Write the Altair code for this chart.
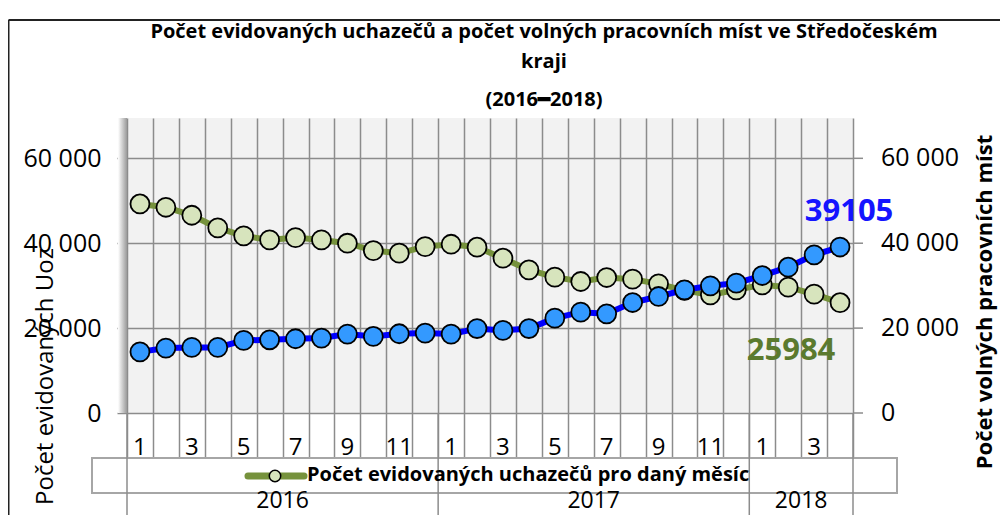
import altair as alt
import pandas as pd

# ---- data ----
months = [1, 2, 3, 4, 5, 6, 7, 8, 9, 10, 11, 12,
          1, 2, 3, 4, 5, 6, 7, 8, 9, 10, 11, 12,
          1, 2, 3, 4]
years = [2016] * 12 + [2017] * 12 + [2018] * 4
uchazeci = [49250, 48470, 46590, 43600, 41720, 40780, 41320, 40780, 40000, 38260,
            37650, 39200, 39760, 39060, 36470, 33720, 32000, 30980, 31920, 31530,
            30430, 28900, 27840, 29020, 30200, 29650, 28000, 25984]
mista = [14400, 15290, 15450, 15450, 17100, 17250, 17490, 17650, 18590, 18040,
         18670, 18820, 18590, 19900, 19450, 19900, 22350, 23760, 23370, 26030,
         27450, 29020, 29960, 30590, 32390, 34350, 37250, 39105]
y_ticks = [0, 20000, 40000, 60000]
title_lines = ["Počet evidovaných uchazečů a počet volných pracovních míst ve Středočeském",
               "kraji", "(2016━2018)"]
left_title = "Počet evidovaných Uoz"
right_title = "Počet volných pracovních míst"
legend_label = "Počet evidovaných uchazečů pro daný měsíc"

FONT = "Open Sans"
GRID = "#8c8c8c"
GREEN_LINE = "#76923c"
GREEN_FILL = "#d7e4bd"
BLUE_LINE = "#0000ff"
BLUE_FILL = "#3399ff"

n = len(months)
df = pd.DataFrame({"i": list(range(n)), "month": months, "year": years,
                   "uchazeci": uchazeci, "mista": mista})
df_lab = df[df["i"] % 2 == 0]
yr = df.groupby("year")["i"].agg(["min", "max"]).reset_index()
yr["c"] = (yr["min"] + yr["max"]) / 2
year_lab = yr[["year", "c"]]
year_div = pd.DataFrame({"b": sorted(set(list(yr["min"] - 0.5) + list(yr["max"] + 0.5)))})
last = df.iloc[[-1]]
ticks_df = pd.DataFrame({"v": y_ticks})
one = df.iloc[[0]]

xscale = alt.Scale(domain=[-0.5, n - 0.5], nice=False, zero=False)
x_axis = alt.Axis(values=[k - 0.5 for k in range(n + 1)], labels=False, title=None,
                  grid=True, gridColor=GRID, gridWidth=1.5, gridOpacity=1,
                  tickSize=55, tickColor=GRID, tickWidth=1.5, domain=False)
yscale = alt.Scale(domain=[0, 69500], nice=False, zero=True)
y_axis = alt.Axis(values=y_ticks, title=left_title, orient="left",
                  labelExpr="replace(format(datum.value, ','), ',', ' ')",
                  labelFontSize=25, labelFont=FONT, labelColor="black",
                  labelPadding=16, tickSize=10, tickColor=GRID, tickWidth=1.5,
                  grid=True, gridColor=GRID, gridWidth=1.5, gridOpacity=1,
                  domain=False, titleFont=FONT, titleFontSize=24,
                  titleFontWeight="normal", titleColor="black",
                  titleAngle=270, titleX=-82, titleY=258,
                  titleAlign="center", titleBaseline="middle")


def X(field):
    return alt.X(field, type="quantitative", scale=xscale, axis=x_axis)


def Y(field):
    return alt.Y(field, type="quantitative", scale=yscale, axis=y_axis)


base = alt.Chart(df)

green_line = base.mark_line(color=GREEN_LINE, strokeWidth=6).encode(x=X("i"), y=Y("uchazeci"))
green_pts = base.mark_point(filled=True, fill=GREEN_FILL, stroke="black", strokeWidth=1.8,
                            size=360, opacity=1, shape="circle").encode(
    x=X("i"), y=Y("uchazeci"))
blue_line = base.mark_line(color=BLUE_LINE, strokeWidth=6).encode(x=X("i"), y=Y("mista"))
blue_pts = base.mark_point(filled=True, fill=BLUE_FILL, stroke="black", strokeWidth=1.8,
                           size=360, opacity=1, shape="circle").encode(
    x=X("i"), y=Y("mista"))
blue_lbl = alt.Chart(last).mark_text(font=FONT, fontSize=31, fontWeight="bold",
                                     color="#1414ff", dx=9, dy=-35).encode(
    x=X("i"), y=Y("mista"), text="mista:Q")
green_lbl = alt.Chart(last).mark_text(font=FONT, fontSize=31, fontWeight="bold",
                                      color="#5b7a2e", dx=-49, dy=48).encode(
    x=X("i"), y=Y("uchazeci"), text="uchazeci:Q")

# right-hand axis (same scale), drawn as ticks + labels
r_ticks = alt.Chart(ticks_df).mark_rule(color=GRID, strokeWidth=1.5).encode(
    x=alt.value(726), x2=alt.value(736), y=Y("v"))
r_labels = alt.Chart(ticks_df).transform_calculate(
    lab="replace(format(datum.v, ','), ',', ' ')").mark_text(
    font=FONT, fontSize=25, align="left", baseline="middle", color="black").encode(
    x=alt.value(754), y=Y("v"), text="lab:N")
r_title = alt.Chart(pd.DataFrame({"t": [right_title]})).mark_text(
    font=FONT, fontSize=22, fontWeight="bold", angle=270, align="center",
    baseline="middle", color="black").encode(
    x=alt.value(858), y=alt.value(184), text="t:N")

# decorations (pixel positions relative to the plot area)
shadow = alt.Chart(one).mark_rect(
    fill=alt.Gradient(gradient="linear", x1=0, x2=1, y1=0, y2=0,
                      stops=[alt.GradientStop(color="#ffffff", offset=0),
                             alt.GradientStop(color="#9a9a9a", offset=1)])).encode(
    x=alt.value(-9), x2=alt.value(0), y=alt.value(0), y2=alt.value(295))

legend_box = alt.Chart(one).mark_rect(
    fill="white", stroke="#a6a6a6", strokeWidth=2).encode(
    x=alt.value(-35), x2=alt.value(770), y=alt.value(340), y2=alt.value(375))
legend_sym_line = alt.Chart(one).mark_rule(
    color=GREEN_LINE, strokeWidth=7, strokeCap="round").encode(
    x=alt.value(121), x2=alt.value(177), y=alt.value(358))
legend_sym_pt = alt.Chart(one).mark_point(
    filled=True, fill=GREEN_FILL, stroke="black", strokeWidth=1.5, size=130,
    shape="circle", opacity=1).encode(x=alt.value(148), y=alt.value(358))
legend_txt = alt.Chart(pd.DataFrame({"t": [legend_label]})).mark_text(
    font=FONT, fontSize=20, fontWeight="bold", align="left", baseline="middle",
    color="black").encode(x=alt.value(180), y=alt.value(357), text="t:N")

month_txt = alt.Chart(df_lab).mark_text(font=FONT, fontSize=24, baseline="middle",
                                        color="black").encode(
    x=X("i"), y=alt.value(330), text="month:Q")
year_txt = alt.Chart(year_lab).mark_text(font=FONT, fontSize=23, baseline="middle",
                                         color="black").encode(
    x=X("c"), y=alt.value(383), text="year:N")
year_rules = alt.Chart(year_div).mark_rule(color=GRID, strokeWidth=1.5).encode(
    x=X("b"), y=alt.value(295), y2=alt.value(410))

frame_v = alt.Chart(one).mark_rule(color="#222222", strokeWidth=2).encode(
    x=alt.value(-118.5), y=alt.value(-98), y2=alt.value(410))
frame_h = alt.Chart(one).mark_rule(color="#222222", strokeWidth=2).encode(
    x=alt.value(-118.5), x2=alt.value(880), y=alt.value(-98))

title_y = [-86, -56, -18]
title_layers = [
    alt.Chart(pd.DataFrame({"t": [t]})).mark_text(
        font=FONT, fontSize=20, fontWeight="bold", baseline="middle",
        color="black").encode(x=alt.value(417), y=alt.value(yy), text="t:N")
    for t, yy in zip(title_lines, title_y)
]

chart = alt.layer(
    shadow, legend_box, year_rules,
    green_line, green_pts, blue_line, blue_pts, blue_lbl, green_lbl,
    r_ticks, r_labels, r_title,
    month_txt, year_txt, legend_sym_line, legend_sym_pt, legend_txt,
    frame_v, frame_h, *title_layers,
).properties(
    width=726, height=295,
    autosize=alt.AutoSizeParams(type="none"),
    padding={"left": 119, "top": 110, "right": 147, "bottom": 102},
    background="white",
).configure_view(fill="#f2f2f2", stroke=None)

chart.save("out.html", embed_options={"renderer": "svg", "actions": False})
